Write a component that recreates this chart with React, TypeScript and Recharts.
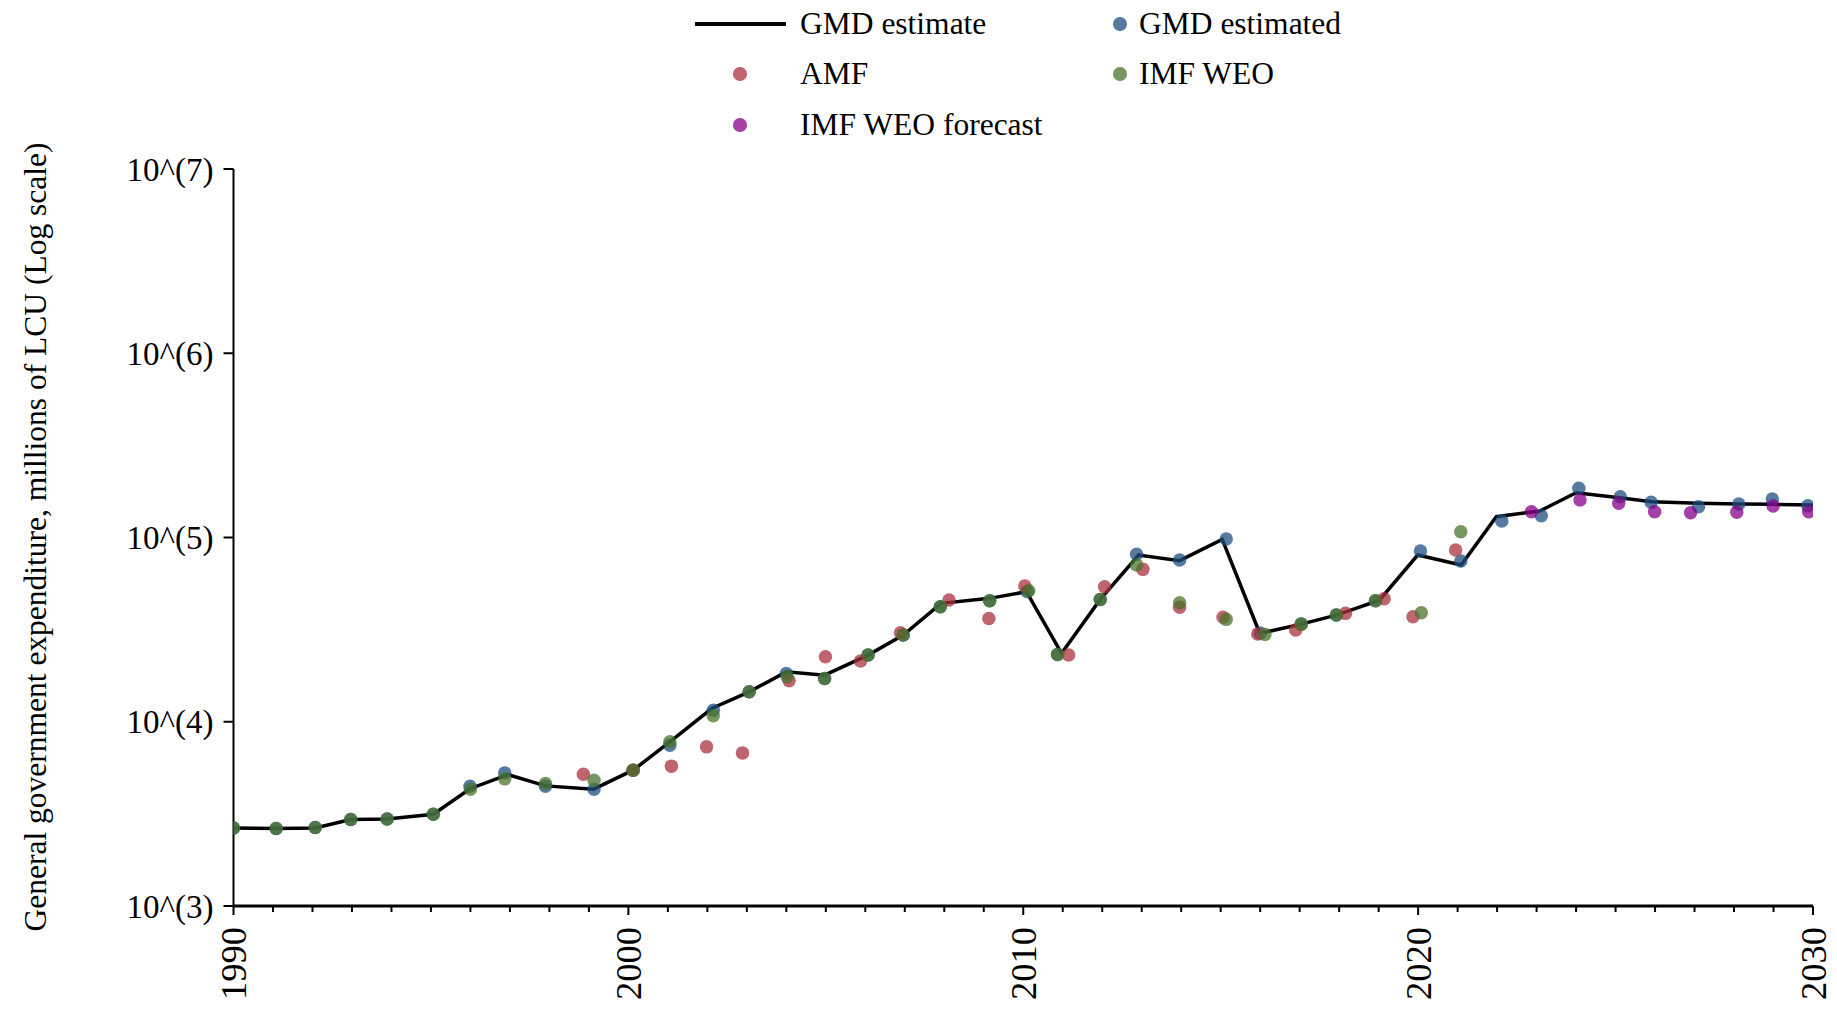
import { ComposedChart, Line, Scatter, XAxis, YAxis } from 'recharts'

// GMD estimate line (x positions are read off the picture, they are not exact years)
const lineX = [
  1990.0, 1991.08, 1992.07, 1992.97, 1993.89, 1995.06, 1995.99, 1996.95, 1997.9, 1999.12,
  2000.12, 2001.05, 2002.11, 2003.06, 2004.0, 2004.97, 2006.07, 2006.96, 2007.92, 2009.15,
  2010.08, 2010.97, 2011.95, 2012.92, 2013.96, 2015.04, 2015.99, 2017.04, 2017.93, 2019.02,
  2019.99, 2021.09, 2021.98, 2023.08, 2024.0, 2025.1, 2025.92, 2027.1, 2028.12, 2028.97, 2030.0,
]
const lineValues = [
  2653, 2633, 2650, 2944, 2969, 3148, 4330, 5170, 4487, 4305,
  5458, 7783, 11800, 14535, 18660, 17900, 23000, 29544, 43920, 46740,
  50770, 23500, 46130, 80350, 74850, 97750, 30170, 33880, 37930, 45700,
  80350, 70900, 129700, 139300, 175100, 164400, 156500, 153400, 152000, 151400, 150200,
]

const gmdX = [
  1990.0, 1991.08, 1992.07, 1992.97, 1993.89, 1995.06, 1995.99, 1996.87, 1997.9, 1999.13,
  2000.12, 2001.05, 2002.15, 2003.06, 2004.0, 2004.97, 2006.07, 2006.96, 2007.9, 2009.15,
  2010.1, 2010.87, 2011.95, 2012.87, 2013.96, 2015.14, 2016.0, 2017.04, 2017.93, 2018.92,
  2020.06, 2021.08, 2022.12, 2023.12, 2024.07, 2025.12, 2025.9, 2027.1, 2028.12, 2028.97, 2029.87,
]
const gmdValues = [
  2653, 2633, 2667, 2944, 2969, 3148, 4467, 5278, 4467, 4305,
  5458, 7464, 11558, 14535, 18274, 17180, 23006, 29544, 42072, 45365,
  51000, 23204, 46130, 81045, 75460, 98200, 30270, 33880, 37930, 45360,
  84480, 74520, 122900, 131300, 185000, 166600, 155300, 147000, 152000, 161800, 148800,
]

const amfX = [
  1998.86, 2000.12, 2001.09, 2001.98, 2002.89, 2004.07, 2004.99, 2005.88, 2006.89, 2008.12,
  2009.13, 2010.04, 2011.15, 2012.06, 2013.03, 2013.96, 2015.06, 2015.94, 2016.9, 2018.16,
  2019.14, 2019.87, 2020.95,
]
const amfValues = [
  5192, 5458, 5742, 7307, 6776, 16672, 22525, 21347, 30400, 45760,
  36370, 54530, 23010, 54040, 67150, 41780, 36870, 29920, 31450, 38750,
  46520, 37140, 85520,
]

const weoX = [
  1990.0, 1991.08, 1992.07, 1992.97, 1993.89, 1995.06, 1996.0, 1996.87, 1997.9, 1999.13,
  2000.12, 2001.05, 2002.15, 2003.06, 2004.02, 2004.97, 2006.07, 2006.96, 2007.9, 2009.15,
  2010.14, 2010.87, 2011.95, 2012.87, 2013.96, 2015.14, 2016.12, 2017.04, 2017.93, 2018.92,
  2020.08, 2021.08,
]
const weoValues = [
  2653, 2633, 2667, 2944, 2969, 3148, 4305, 4898, 4623, 4818,
  5458, 7783, 10765, 14535, 17540, 17180, 23006, 29544, 42072, 45365,
  51400, 23204, 46130, 70900, 44240, 35950, 29800, 33880, 37930, 45360,
  39040, 107520,
]

const forecastX = [2022.87, 2024.1, 2025.08, 2025.99, 2026.9, 2028.07, 2028.99, 2029.89]
const forecastValues = [138000, 159800, 153500, 138000, 136400, 137100, 148300, 138000]

const yearTicks = Array.from({ length: 41 }, (_, i) => 1990 + i)
const yTicks = [1e3, 1e4, 1e5, 1e6, 1e7]

const toPoints = (xs: number[], ys: number[]) => xs.map((x, i) => ({ x, y: ys[i] }))

const FONT = '"Liberation Serif", "Times New Roman", serif'
const DOT_R = 6.75
const COLORS = {
  gmd: '#1f4f80',
  amf: '#a8323f',
  weo: '#4b732a',
  forecast: '#87008c',
}

function Dot(color: string) {
  return (p: any) => (
    <circle cx={p.cx} cy={p.cy} r={DOT_R} fill={color} fillOpacity={0.75} />
  )
}

function YearTick({ x, y, payload }: any) {
  const major = payload.value % 10 === 0
  return (
    <g>
      <line x1={x} y1={y} x2={x} y2={y + (major ? 9 : 6)} stroke="#000" strokeWidth={2} />
      {major && (
        <text
          transform={`translate(${x},${y + 21}) rotate(-90)`}
          textAnchor="end"
          dominantBaseline="central"
          fontSize={36.5}
          fontFamily={FONT}
          fill="#000"
        >
          {payload.value}
        </text>
      )}
    </g>
  )
}

function AxisTitle() {
  return (
    <text
      transform="translate(46,537) rotate(-90)"
      textAnchor="middle"
      fontSize={31.5}
      fontFamily={FONT}
      fill="#000"
    >
      General government expenditure, millions of LCU (Log scale)
    </text>
  )
}

function LegendDot({ x, y, color }: { x: number; y: number; color: string }) {
  return (
    <div
      style={{
        position: 'absolute',
        left: x - DOT_R,
        top: y - DOT_R,
        width: DOT_R * 2,
        height: DOT_R * 2,
        borderRadius: '50%',
        background: color,
        opacity: 0.75,
      }}
    />
  )
}

function LegendText({ x, y, text }: { x: number; y: number; text: string }) {
  return (
    <div
      style={{
        position: 'absolute',
        left: x,
        top: y,
        transform: 'translateY(-50%)',
        fontFamily: FONT,
        fontSize: 31.5,
        lineHeight: 1,
        whiteSpace: 'nowrap',
        color: '#000',
      }}
    >
      {text}
    </div>
  )
}

export default function App() {
  return (
    <div style={{ position: 'relative', width: 1837, height: 1012, background: '#fff', overflow: 'hidden' }}>
      <style>{'body{margin:0}'}</style>
      <ComposedChart
        width={1837}
        height={1012}
        margin={{ top: 169, right: 24, bottom: 0, left: 0 }}
      >
        <XAxis
          type="number"
          dataKey="x"
          domain={[1990, 2030]}
          ticks={yearTicks}
          interval={0}
          allowDataOverflow
          height={106}
          axisLine={{ stroke: '#000', strokeWidth: 3 }}
          tickLine={false}
          tickSize={0}
          tickMargin={0}
          tick={<YearTick />}
        />
        <YAxis
          type="number"
          dataKey="y"
          scale="log"
          domain={[1000, 10000000]}
          ticks={yTicks}
          interval={0}
          allowDataOverflow
          width={233.5}
          axisLine={{ stroke: '#000', strokeWidth: 2 }}
          tickLine={{ stroke: '#000', strokeWidth: 2 }}
          tickSize={10}
          tickMargin={10}
          tick={{ fill: '#000', fontSize: 33, fontFamily: FONT }}
          tickFormatter={(v: number) => `10^(${Math.round(Math.log10(v))})`}
          label={<AxisTitle />}
        />
        <Line
          data={toPoints(lineX, lineValues)}
          dataKey="y"
          type="linear"
          stroke="#000"
          strokeWidth={3.5}
          dot={false}
          activeDot={false}
          isAnimationActive={false}
        />
        <Scatter data={toPoints(gmdX, gmdValues)} dataKey="y" shape={Dot(COLORS.gmd)} isAnimationActive={false} />
        <Scatter data={toPoints(amfX, amfValues)} dataKey="y" shape={Dot(COLORS.amf)} isAnimationActive={false} />
        <Scatter data={toPoints(weoX, weoValues)} dataKey="y" shape={Dot(COLORS.weo)} isAnimationActive={false} />
        <Scatter data={toPoints(forecastX, forecastValues)} dataKey="y" shape={Dot(COLORS.forecast)} isAnimationActive={false} />
      </ComposedChart>

      <div style={{ position: 'absolute', left: 695, top: 22.25, width: 91, height: 3.5, background: '#000' }} />
      <LegendText x={800} y={24} text="GMD estimate" />
      <LegendDot x={1120} y={24} color={COLORS.gmd} />
      <LegendText x={1139} y={24} text="GMD estimated" />
      <LegendDot x={740} y={74} color={COLORS.amf} />
      <LegendText x={800} y={74} text="AMF" />
      <LegendDot x={1120} y={74} color={COLORS.weo} />
      <LegendText x={1139} y={74} text="IMF WEO" />
      <LegendDot x={740} y={125} color={COLORS.forecast} />
      <LegendText x={800} y={125} text="IMF WEO forecast" />
    </div>
  )
}
